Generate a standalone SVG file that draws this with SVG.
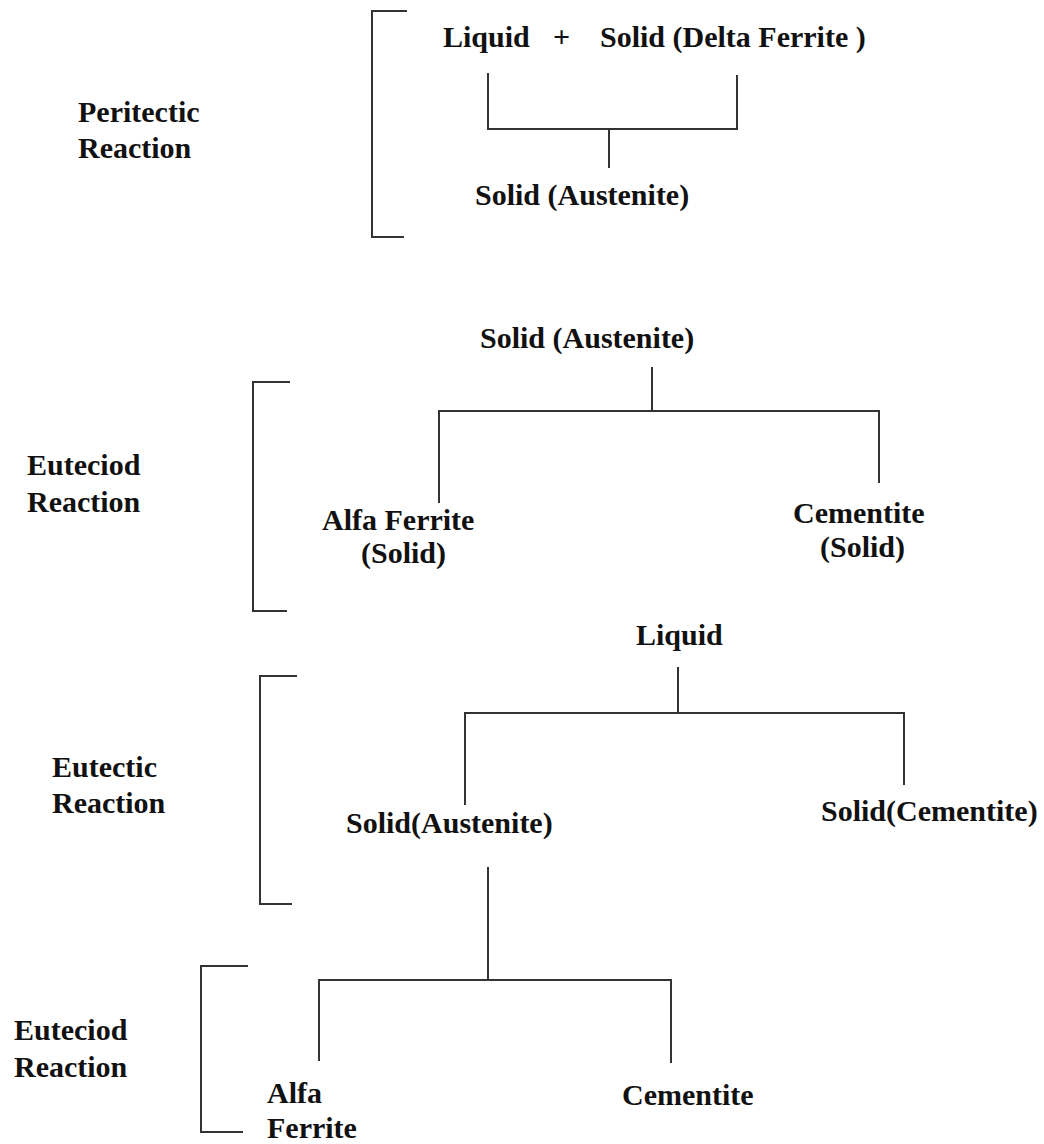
<svg xmlns="http://www.w3.org/2000/svg" width="1044" height="1144" viewBox="0 0 1044 1144">
<style>
text{font-family:"Liberation Serif","Times New Roman",serif;font-size:30px;font-weight:bold;fill:#111}
.ln{fill:none;stroke:#333;stroke-width:2}
</style>
<rect width="1044" height="1144" fill="#fff"/>
<g id="connectors">
<path class="ln" d="M488,73 V129 H737 V75 M609,129 V168"/>
<path class="ln" d="M652,367 V411 M439,503 V411 H879 V483"/>
<path class="ln" d="M678,667 V713 M465,805 V713 H904 V785"/>
<path class="ln" d="M488,867 V980 M319,1061 V980 H671 V1063"/>
</g>
<g id="brackets">
<path class="ln" d="M407,11 H372 V237 H404"/>
<path class="ln" d="M290,382 H253 V611 H287"/>
<path class="ln" d="M297,676 H260 V904 H292"/>
<path class="ln" d="M248,966 H201 V1132 H243"/>
</g>
<g id="label-peritectic"><text x="78" y="122">Peritectic</text><text x="78" y="158">Reaction</text></g>
<g id="label-euteciod1"><text x="27" y="475">Euteciod</text><text x="27" y="512">Reaction</text></g>
<g id="label-eutectic"><text x="52" y="777">Eutectic</text><text x="52" y="813">Reaction</text></g>
<g id="label-euteciod2"><text x="14" y="1040">Euteciod</text><text x="14" y="1077">Reaction</text></g>
<g id="node-liquid-delta"><text y="47"><tspan x="443">Liquid</tspan><tspan x="553">+</tspan><tspan x="600">Solid (Delta Ferrite )</tspan></text></g>
<g id="node-austenite1"><text x="475" y="205">Solid (Austenite)</text></g>
<g id="node-austenite2"><text x="480" y="348">Solid (Austenite)</text></g>
<g id="node-alfa1"><text x="322" y="530">Alfa Ferrite</text><text x="361" y="563">(Solid)</text></g>
<g id="node-cementite1"><text x="793" y="523">Cementite</text><text x="820" y="557">(Solid)</text></g>
<g id="node-liquid"><text x="636" y="645">Liquid</text></g>
<g id="node-austenite3"><text x="346" y="833">Solid(Austenite)</text></g>
<g id="node-cementite2"><text x="821" y="821">Solid(Cementite)</text></g>
<g id="node-alfa2"><text x="267" y="1103">Alfa</text><text x="267" y="1138">Ferrite</text></g>
<g id="node-cementite3"><text x="622" y="1105">Cementite</text></g>
</svg>
